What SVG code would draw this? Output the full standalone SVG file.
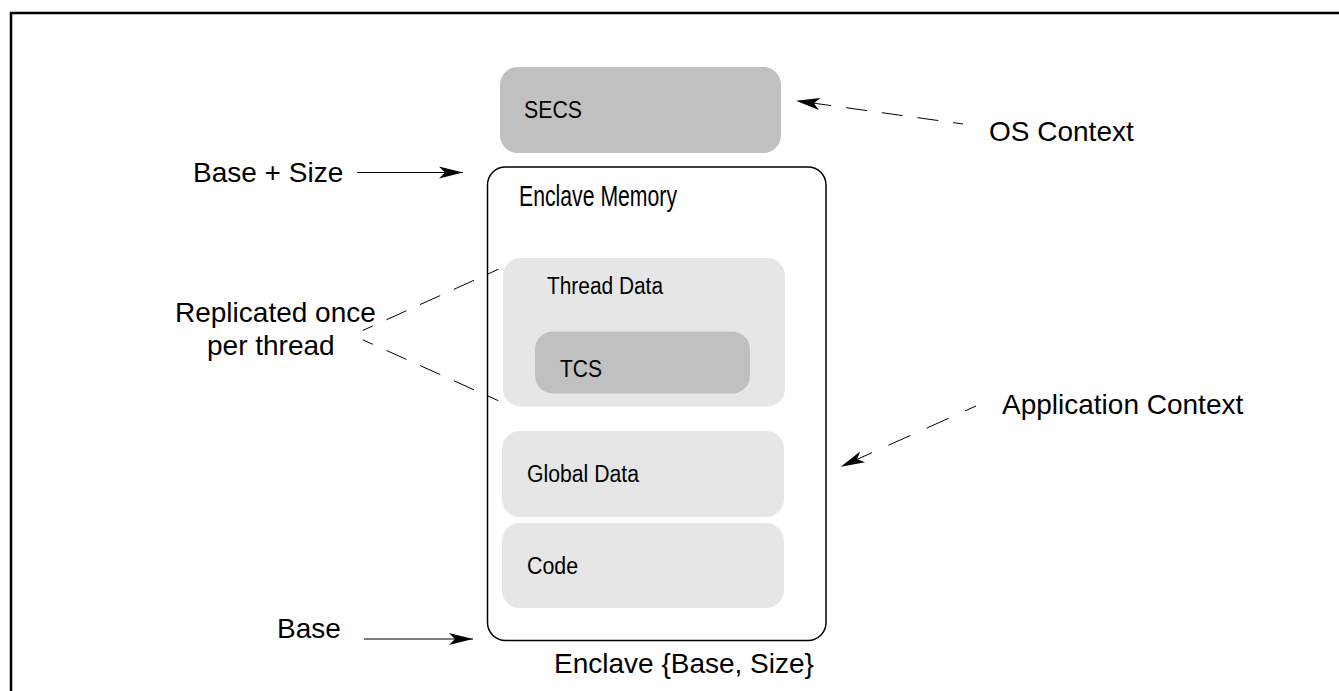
<svg xmlns="http://www.w3.org/2000/svg" width="1339" height="691" viewBox="0 0 1339 691">
  <style>
    text { font-family: "Liberation Sans", Arial, sans-serif; fill: #000; }
    .big { font-size: 28px; }
    .small { font-size: 23px; }
    .dark { fill: #c0c0c0; }
    .light { fill: #e6e6e6; }
    .solid { stroke: #000; stroke-width: 1.2; fill: none; }
    .dash { stroke: #000; stroke-width: 1; fill: none; }
  </style>
  <defs>
    <marker id="arrow" viewBox="-25 -7 27 14" refX="0" refY="0" markerWidth="27" markerHeight="14" markerUnits="userSpaceOnUse" orient="auto">
      <path d="M0,0 L-24,-6 L-18,0 L-24,6 Z" fill="#000"/>
    </marker>
  </defs>
  <rect width="1339" height="691" fill="#fff"/>
  <g id="frame" stroke="#000" stroke-width="2.5" fill="none">
    <path d="M11,691 L11,13 L1339,13"/>
  </g>
  <g id="node-secs">
    <rect class="dark" x="500" y="67" width="281" height="86" rx="18"/>
    <text class="small" x="524" y="118" textLength="58" lengthAdjust="spacingAndGlyphs">SECS</text>
  </g>
  <g id="node-enclave">
    <rect x="487.5" y="167" width="338.5" height="473.5" rx="18" fill="#fff" stroke="#000" stroke-width="1.5"/>
    <text x="519" y="206" font-size="30" textLength="158" lengthAdjust="spacingAndGlyphs">Enclave Memory</text>
  </g>
  <g id="node-thread-data">
    <rect class="light" x="503" y="258" width="282" height="148.5" rx="18"/>
    <text class="small" x="547" y="294" textLength="116" lengthAdjust="spacingAndGlyphs">Thread Data</text>
  </g>
  <g id="node-tcs">
    <rect class="dark" x="535" y="331.5" width="215" height="62" rx="18"/>
    <text class="small" x="560" y="377" textLength="42" lengthAdjust="spacingAndGlyphs">TCS</text>
  </g>
  <g id="node-global-data">
    <rect class="light" x="502" y="431" width="282" height="86" rx="18"/>
    <text class="small" x="527" y="482" textLength="112" lengthAdjust="spacingAndGlyphs">Global Data</text>
  </g>
  <g id="node-code">
    <rect class="light" x="502" y="523" width="282" height="85" rx="18"/>
    <text class="small" x="527" y="574" textLength="51" lengthAdjust="spacingAndGlyphs">Code</text>
  </g>
  <g id="label-base-size">
    <text class="big" x="193" y="182">Base + Size</text>
  </g>
  <g id="label-replicated">
    <text class="big" x="175" y="322">Replicated once</text>
    <text class="big" x="207" y="355">per thread</text>
  </g>
  <g id="label-os-context">
    <text class="big" x="989" y="141">OS Context</text>
  </g>
  <g id="label-app-context">
    <text class="big" x="1002" y="414">Application Context</text>
  </g>
  <g id="label-base">
    <text class="big" x="277" y="638">Base</text>
  </g>
  <g id="label-enclave">
    <text class="big" x="554" y="673">Enclave {Base, Size}</text>
  </g>
  <g id="connectors">
    <line class="solid" x1="357" y1="172.5" x2="463" y2="172.5" marker-end="url(#arrow)"/>
    <line class="solid" x1="364" y1="639" x2="473" y2="639" marker-end="url(#arrow)"/>
    <line class="dash" x1="963" y1="124" x2="796" y2="100.7" stroke-dasharray="21 15" stroke-dashoffset="11" marker-end="url(#arrow)"/>
    <line class="dash" x1="976" y1="406" x2="840.7" y2="466.7" stroke-dasharray="24 18" stroke-dashoffset="12" marker-end="url(#arrow)"/>
    <line class="dash" x1="362.7" y1="330.5" x2="498.3" y2="269.3" stroke-dasharray="22 15" stroke-dashoffset="11"/>
    <line class="dash" x1="362.7" y1="339.8" x2="498.3" y2="400.7" stroke-dasharray="22 15" stroke-dashoffset="11"/>
  </g>
</svg>
